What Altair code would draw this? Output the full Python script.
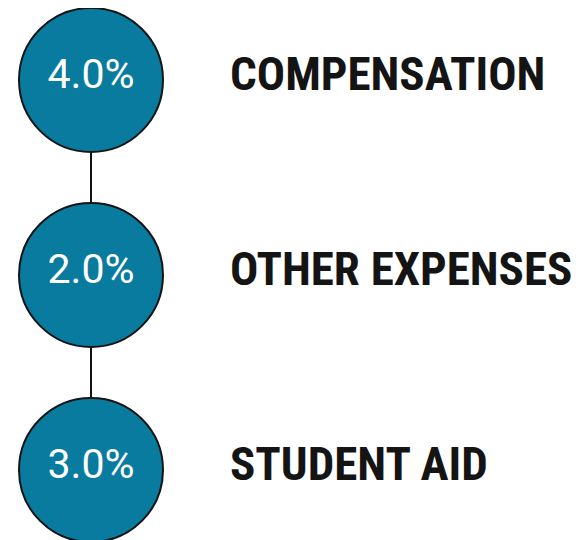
import altair as alt
import pandas as pd

categories = ["COMPENSATION", "OTHER EXPENSES", "STUDENT AID"]
values = [4.0, 2.0, 3.0]
value_labels = ["4.0%", "2.0%", "3.0%"]

df = pd.DataFrame({
    "category": categories,
    "value": values,
    "label": value_labels,
    "pos": list(range(len(categories))),
})

yscale = alt.Scale(domain=[-0.369, 2.359], reverse=True, nice=False, zero=False)
Y = alt.Y("pos:Q", scale=yscale, axis=None)

base = alt.Chart(df)

rule = alt.Chart(pd.DataFrame({"a": [0], "b": [len(categories) - 1]})).mark_rule(
    color="#111111", strokeWidth=2
).encode(
    x=alt.value(83),
    y=alt.Y("a:Q", scale=yscale, axis=None),
    y2="b:Q",
)

circles = base.mark_circle(
    size=20736, color="#087b9e", opacity=1, stroke="#151515", strokeWidth=2
).encode(x=alt.value(83), y=Y)

inner = base.mark_text(
    font="Roboto", fontSize=41, color="white", align="center", baseline="middle", dy=-4
).encode(x=alt.value(83), y=Y, text="label:N")

labels = base.mark_text(
    font="'Roboto Condensed', 'Liberation Sans Narrow', 'Arial Narrow', 'DejaVu Sans Condensed', sans-serif",
    fontWeight="bold", fontSize=47, color="#141414",
    align="left", baseline="middle", dy=-4
).encode(x=alt.value(222), y=Y, text="category:N")

chart = alt.layer(rule, circles, inner, labels).properties(
    width=565, height=532, autosize=alt.AutoSizeParams(type="none"), padding=0
).configure_view(stroke=None)

chart.save("out.html", embed_options={"renderer": "svg", "actions": False})
